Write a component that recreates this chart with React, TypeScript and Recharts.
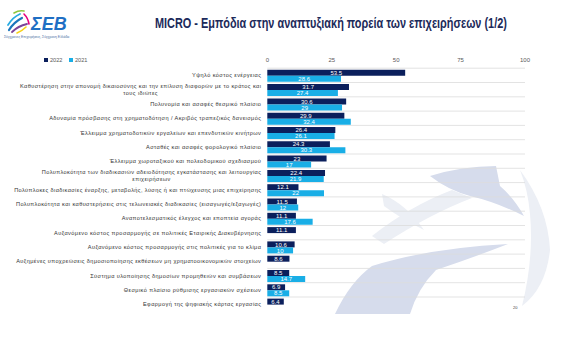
import React from 'react';
import { BarChart, Bar, XAxis, YAxis, CartesianGrid, LabelList } from 'recharts';

const categories: string[] = [
  'Υψηλό κόστος ενέργειας',
  'Καθυστέρηση στην απονομή δικαιοσύνης και την επίλυση διαφορών με το κράτος και\nτους ιδιώτες',
  'Πολυνομία και ασαφές θεσμικό πλαίσιο',
  'Αδυναμία πρόσβασης στη χρηματοδότηση / Ακριβός τραπεζικός δανεισμός',
  'Έλλειμμα χρηματοδοτικών εργαλείων και επενδυτικών κινήτρων',
  'Ασταθές και ασαφές φορολογικό πλαίσιο',
  'Έλλειμμα χωροταξικού και πολεοδομικού σχεδιασμού',
  'Πολυπλοκότητα των διαδικασιών αδειοδότησης εγκατάστασης και λειτουργίας\nεπιχειρήσεων',
  'Πολύπλοκες διαδικασίες έναρξης, μεταβολής, λύσης ή και πτώχευσης μιας επιχείρησης',
  'Πολυπλοκότητα και καθυστερήσεις στις τελωνειακές διαδικασίες (εισαγωγές/εξαγωγές)',
  'Αναποτελεσματικός έλεγχος και εποπτεία αγοράς',
  'Αυξανόμενο κόστος προσαρμογής σε πολιτικές Εταιρικής Διακυβέρνησης',
  'Αυξανόμενο κόστος προσαρμογής στις πολιτικές για το κλίμα',
  'Αυξημένες υποχρεώσεις δημοσιοποίησης εκθέσεων μη χρηματοοικονομικών στοιχείων',
  'Σύστημα υλοποίησης δημοσίων προμηθειών και συμβάσεων',
  'Θεσμικό πλαίσιο ρύθμισης εργασιακών σχέσεων',
  'Εφαρμογή της ψηφιακής κάρτας εργασίας',
];

const values2022: (number | null)[] = [53.5, 31.7, 30.6, 29.9, 26.4, 24.3, 23, 22.4, 12.1, 11.5, 11.1, 11.1, 10.6, 8.6, 8.5, 6.9, 6.4];
const values2021: (number | null)[] = [28.6, 27.4, 29, 32.4, 26.1, 30.3, 17, 21.9, 22, 12, 17.6, null, 10, null, 14.7, 8.5, null];

const seriesNames = ['2022', '2021'];
const xTicks = [0, 25, 50, 75, 100];
const titleText = 'MICRO - Εμπόδια στην αναπτυξιακή πορεία των επιχειρήσεων (1/2)';

const COLOR_2022 = '#0B1F5C';
const COLOR_2021 = '#19AEE6';
const FONT = '"Liberation Sans", Arial, sans-serif';
const LABEL_FS = 5.6;
const LABEL_LS = 0.4;
const TITLE_FS = 15;
const TITLE_W = 352;

const data = categories.map((name, i) => ({ name, v2022: values2022[i], v2021: values2021[i] }));

let ctx: CanvasRenderingContext2D | null = null;
function textWidth(s: string, size: number, ls: number, weight = 'normal'): number {
  if (!ctx && typeof document !== 'undefined') {
    ctx = document.createElement('canvas').getContext('2d');
  }
  if (!ctx) return s.length * size * 0.52 + s.length * ls;
  ctx.font = `${weight} ${size}px ${FONT}`;
  return ctx.measureText(s).width + s.length * ls;
}

const CatTick = (props: any) => {
  const { x, y, payload } = props;
  const lines = String(payload.value).split('\n');
  const common = { fontSize: LABEL_FS, fill: '#333333', fontFamily: FONT, letterSpacing: LABEL_LS } as any;
  if (lines.length === 1) {
    return (
      <text x={x} y={y} dy="0.35em" textAnchor="end" {...common}>
        {lines[0]}
      </text>
    );
  }
  const w1 = textWidth(lines[0], LABEL_FS, LABEL_LS);
  const cx = x - w1 / 2;
  const lh = 7;
  return (
    <g>
      {lines.map((l, i) => (
        <text key={i} x={cx} y={y + (i - (lines.length - 1) / 2) * lh} dy="0.35em" textAnchor="middle" {...common}>
          {l}
        </text>
      ))}
    </g>
  );
};

const gridGen = (args: any) => {
  const off = args.offset;
  const band = off.height / categories.length;
  const ys: number[] = [];
  for (let i = 0; i < categories.length; i++) ys.push(off.top + i * band);
  return ys;
};

const fmt = (v: any) => (v === null || v === undefined ? '' : v);

const Background = () => {
  const natural = textWidth(titleText, TITLE_FS, 0, 'bold');
  const sx = natural > 0 ? TITLE_W / natural : 1;
  return (
    <svg width={567} height={341} style={{ position: 'absolute', left: 0, top: 0 }}>
      <rect x={0} y={0} width={567} height={341} fill="#ffffff" />
      {/* watermark swooshes */}
      <path d="M430,176 Q462,166 496,166 L500,186 Q514,198 524,216 Q496,202 470,196 Q448,190 430,176 Z" fill="#d6dcec" />
      <path d="M372,236 Q410,206 452,190 L472,198 Q430,214 384,244 Z" fill="#eceff5" />
      <path d="M335,314 Q350,282 372,266 Q430,248 508,244 Q472,258 436,270 Q418,288 410,314 Z" fill="#d6dcec" />
      <path d="M520,170 Q548,208 550,250 Q546,288 522,306 Q534,258 530,214 Q528,190 520,170 Z" fill="#eceff5" />
      <path d="M382,194 Q406,204 424,230 Q400,218 384,206 Z" fill="#eceff5" />
      {/* logo icon */}
      <g strokeLinecap="round" fill="none">
        <path d="M9,30 Q14,22 22,18" stroke="#1b75bc" strokeWidth={2.2} />
        <path d="M8,25 Q13,17 20,14" stroke="#29abe2" strokeWidth={1.8} />
        <path d="M12,32 Q18,26 27,24" stroke="#7b4397" strokeWidth={1.8} />
        <path d="M24,14 Q28,18 29,24" stroke="#e6007e" strokeWidth={1.6} />
        <path d="M14,13 Q19,10 24,11" stroke="#8dc63f" strokeWidth={1.6} />
        <path d="M26,27 Q22,31 17,33" stroke="#f7d117" strokeWidth={1.6} />
      </g>
      <text x={31} y={30} fontFamily={FONT} fontSize={18} fontWeight="bold" fontStyle="italic" fill="#1f6fc4">ΣΕΒ</text>
      <text x={4} y={38} fontFamily={FONT} fontSize={3.4} fill="#4a6fa5">Σύγχρονες Επιχειρήσεις, Σύγχρονη Ελλάδα</text>
      {/* title */}
      <text
        transform={`translate(155,27.5) scale(${sx},1)`}
        x={0}
        y={0}
        fontFamily={FONT}
        fontSize={TITLE_FS}
        fontWeight="bold"
        fill="#1C2A5A"
      >
        {titleText}
      </text>
      {/* legend */}
      <rect x={44} y={58} width={4} height={4} fill={COLOR_2022} />
      <text x={50} y={62} fontFamily={FONT} fontSize={5.6} fill="#595959">{seriesNames[0]}</text>
      <rect x={69} y={58} width={4} height={4} fill={COLOR_2021} />
      <text x={75} y={62} fontFamily={FONT} fontSize={5.6} fill="#595959">{seriesNames[1]}</text>
      <text x={513} y={309} fontFamily={FONT} fontSize={4} fill="#404040">20</text>
    </svg>
  );
};

export default function App() {
  return (
    <div style={{ position: 'fixed', left: 0, top: 0, width: 567, height: 341, background: '#fff' }}>
      <Background />
      <div style={{ position: 'absolute', left: 0, top: 0 }}>
        <BarChart
          width={567}
          height={341}
          data={data}
          layout="vertical"
          margin={{ top: 54.2, right: 42, bottom: 29.7, left: 0 }}
          barCategoryGap={1.6}
          barGap={0}
        >
          <CartesianGrid vertical={false} horizontal stroke="#dcdcdc" strokeWidth={0.8} horizontalCoordinatesGenerator={gridGen} />
          <XAxis
            type="number"
            orientation="top"
            domain={[0, 100]}
            ticks={xTicks}
            interval={0}
            axisLine={false}
            tickLine={false}
            tickSize={0}
            tickMargin={6}
            height={14}
            tick={{ fontSize: 6, fill: '#595959', fontFamily: FONT }}
          />
          <YAxis
            type="category"
            dataKey="name"
            width={267.3}
            axisLine={false}
            tickLine={false}
            tickSize={0}
            tickMargin={6}
            interval={0}
            tick={<CatTick />}
          />
          <Bar dataKey="v2022" name={seriesNames[0]} fill={COLOR_2022} isAnimationActive={false}>
            <LabelList dataKey="v2022" position="center" fill="#ffffff" fontSize={6} fontFamily={FONT} formatter={fmt} />
          </Bar>
          <Bar dataKey="v2021" name={seriesNames[1]} fill={COLOR_2021} isAnimationActive={false}>
            <LabelList dataKey="v2021" position="center" fill="#ffffff" fontSize={6} fontFamily={FONT} formatter={fmt} />
          </Bar>
        </BarChart>
      </div>
    </div>
  );
}
